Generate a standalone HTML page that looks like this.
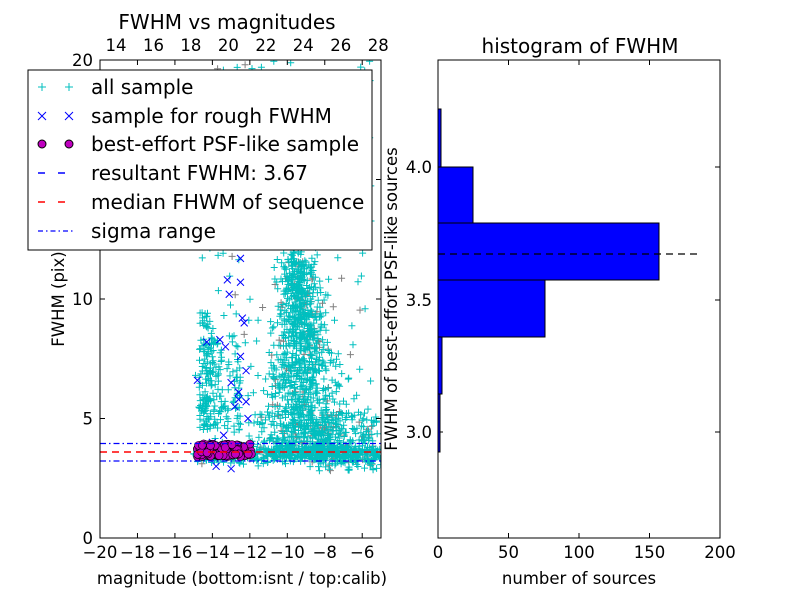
<!DOCTYPE html>
<html><head><meta charset="utf-8"><style>
body{margin:0;background:#fff}
svg text{font-family:"DejaVu Sans","Liberation Sans",sans-serif;fill:#000}
</style></head><body>
<svg id="s" width="800" height="600" xmlns="http://www.w3.org/2000/svg">
<defs><clipPath id="c1"><rect x="100" y="60" width="281" height="478"/></clipPath></defs>
<rect width="800" height="600" fill="#fff"/>
<g id="pts" clip-path="url(#c1)"></g>
<g clip-path="url(#c1)">
<line x1="100" x2="381" y1="443.5" y2="443.5" stroke="#00f" stroke-width="1.2" stroke-dasharray="6,3,1.5,3"/>
<line x1="100" x2="381" y1="461" y2="461" stroke="#00f" stroke-width="1.2" stroke-dasharray="6,3,1.5,3"/>
<line x1="100" x2="381" y1="452" y2="452" stroke="#f00" stroke-width="1.6" stroke-dasharray="7,5"/>
</g>
<rect x="100" y="60" width="281" height="478" fill="none" stroke="#000"/>
<g id="ticks" stroke="#000"></g>
<g id="lbl" font-size="16.5"></g>
<text x="227" y="29" font-size="20" text-anchor="middle">FWHM vs magnitudes</text>
<text x="242" y="584" font-size="16.5" text-anchor="middle">magnitude (bottom:isnt / top:calib)</text>
<text transform="translate(64,299) rotate(-90)" font-size="16.5" text-anchor="middle">FWHM (pix)</text>
<rect x="28" y="70" width="344" height="180" fill="#fff" stroke="#000"/>
<g font-size="20">
<text x="91" y="94">all sample</text>
<text x="91" y="123">sample for rough FWHM</text>
<text x="91" y="151">best-effort PSF-like sample</text>
<text x="91" y="180">resultant FWHM: 3.67</text>
<text x="91" y="209">median FHWM of sequence</text>
<text x="91" y="238">sigma range</text>
</g>
<g stroke="#00bfbf" stroke-width="1"><path d="M38 87h8M42 83v8M65 87h8M69 83v8"/></g>
<g stroke="#00f" stroke-width="1"><path d="M38 112l8 8M46 112l-8 8M65 112l8 8M73 112l-8 8"/></g>
<circle cx="42" cy="144" r="4" fill="#bf00bf" stroke="#000"/><circle cx="69" cy="144" r="4" fill="#bf00bf" stroke="#000"/>
<line x1="38" x2="74" y1="173" y2="173" stroke="#00f" stroke-width="1.4" stroke-dasharray="7,13"/>
<line x1="38" x2="74" y1="202" y2="202" stroke="#f00" stroke-width="1.4" stroke-dasharray="7,13"/>
<line x1="38" x2="74" y1="231" y2="231" stroke="#00f" stroke-width="1.2" stroke-dasharray="5,3,1.5,3"/>
<g fill="#00f" stroke="#000">
<rect x="438" y="109" width="3" height="58"/>
<rect x="438" y="167" width="35" height="56"/>
<rect x="438" y="223" width="221" height="57"/>
<rect x="438" y="280" width="107" height="57"/>
<rect x="438" y="337" width="4" height="57"/>
<rect x="438" y="394" width="2" height="58"/>
</g>
<line x1="438" x2="697" y1="254" y2="254" stroke="#000" stroke-width="1.2" stroke-dasharray="7,5"/>
<rect x="438" y="60" width="282" height="478" fill="none" stroke="#000"/>
<text x="580" y="53" font-size="20" text-anchor="middle">histogram of FWHM</text>
<text x="579" y="584" font-size="16.5" text-anchor="middle">number of sources</text>
<text transform="translate(397,299) rotate(-90)" font-size="16.5" text-anchor="middle">FWHM of best-effort PSF-like sources</text>
</svg>
<script>
var NS="http://www.w3.org/2000/svg",s=document.getElementById('s');
function el(p,t,a,txt){var e=document.createElementNS(NS,t);for(var k in a)e.setAttribute(k,a[k]);if(txt!=null)e.textContent=txt;p.appendChild(e);return e;}
var tk=document.getElementById('ticks'),lb=document.getElementById('lbl');
function X(m){return 100+(m+20)*18.73}function Y(f){return 538-f*23.9}
for(var m=-20;m<=-6;m+=2){var x=X(m);el(tk,'line',{x1:x,x2:x,y1:538,y2:533});el(tk,'line',{x1:x,x2:x,y1:60,y2:65});el(lb,'text',{x:x,y:558,'text-anchor':'middle'},(m<0?'\u2212':'')+Math.abs(m));}
for(var t=14;t<=28;t+=2){var x=116+(t-14)*18.73;el(lb,'text',{x:x,y:51,'text-anchor':'middle'},t);}
for(var f=0;f<=20;f+=5){var y=Y(f);el(tk,'line',{x1:100,x2:105,y1:y,y2:y});el(tk,'line',{x1:381,x2:376,y1:y,y2:y});el(lb,'text',{x:93,y:y+6,'text-anchor':'end'},f);}
[[4.0,167],[3.5,300],[3.0,432]].forEach(function(a){el(tk,'line',{x1:438,x2:443,y1:a[1],y2:a[1]});el(tk,'line',{x1:720,x2:715,y1:a[1],y2:a[1]});el(lb,'text',{x:432,y:a[1]+6,'text-anchor':'end'},a[0].toFixed(1));});
for(var v=0;v<=200;v+=50){var x=438+v*1.41;el(tk,'line',{x1:x,x2:x,y1:538,y2:533});el(tk,'line',{x1:x,x2:x,y1:60,y2:65});el(lb,'text',{x:x,y:558,'text-anchor':'middle'},v);}
var seed=7;function r(){seed=(seed*16807)%2147483647;return seed/2147483647}
function g(){return (r()+r()+r()+r()-2)*1.7}
var P=document.getElementById('pts'),d='',dg='';
function plus(m,f,grey){var x=X(m),y=Y(f);var s='M'+(x-3.5).toFixed(1)+' '+y.toFixed(1)+'h7M'+x.toFixed(1)+' '+(y-3.5).toFixed(1)+'v7';if(grey)dg+=s;else d+=s;}
var i,m,f,u;
for(i=0;i<1000;i++){u=Math.pow(r(),1.6);f=3.6+u*8;m=-9.2+g()*(0.35+(1-u)*0.9);plus(m,f,r()<0.12);}
for(i=0;i<200;i++){m=-9.6+g()*0.5;f=8+r()*7;plus(m,f,r()<0.1);}
for(i=0;i<500;i++){m=-15+r()*10;f=3.5+g()*0.18;plus(m,f,r()<0.1);}
for(i=0;i<200;i++){m=-8.5+r()*3.3;f=2.8+r()*2.5;plus(m,f,r()<0.2);}
for(i=0;i<130;i++){m=-14.7+r()*0.8;f=4.5+r()*5;plus(m,f,false);}
for(i=0;i<90;i++){m=-14+r()*1.5;f=4.5+r()*4;plus(m,f,false);}
for(i=0;i<250;i++){m=-15+r()*9.5;f=4+r()*16;plus(m,f,r()<0.15);}
el(P,'path',{d:dg,stroke:'#808080','stroke-width':1,fill:'none'});
el(P,'path',{d:d,stroke:'#00bfbf','stroke-width':1,fill:'none'});
var bx='',bl=[[-13.2,10.8],[-13.1,10.2],[-12.5,10.7],[-12.4,9.2],[-12.3,9.0],[-13.6,8.3],[-13.3,8.0],[-14.3,8.2],[-12.5,7.6],[-12.2,7.0],[-13.0,6.5],[-12.6,6.1],[-12.6,5.8],[-12.8,5.5],[-12.2,5.7],[-14.8,6.6],[-12.1,5.0],[-13.4,4.3],[-14.0,4.0],[-13.8,3.0],[-13.0,2.9],[-12.5,11.7]];
bl.forEach(function(p){var x=X(p[0]),y=Y(p[1]);bx+='M'+(x-3.5)+' '+(y-3.5)+'l7 7M'+(x+3.5)+' '+(y-3.5)+'l-7 7';});
el(P,'path',{d:bx,stroke:'#00f','stroke-width':1,fill:'none'});
for(i=0;i<160;i++){m=-14.8+r()*2.9;f=3.4+r()*0.55;el(P,'circle',{cx:X(m),cy:Y(f),r:4,fill:'#bf00bf',stroke:'#000','stroke-width':0.6});}
</script>
</body></html>
